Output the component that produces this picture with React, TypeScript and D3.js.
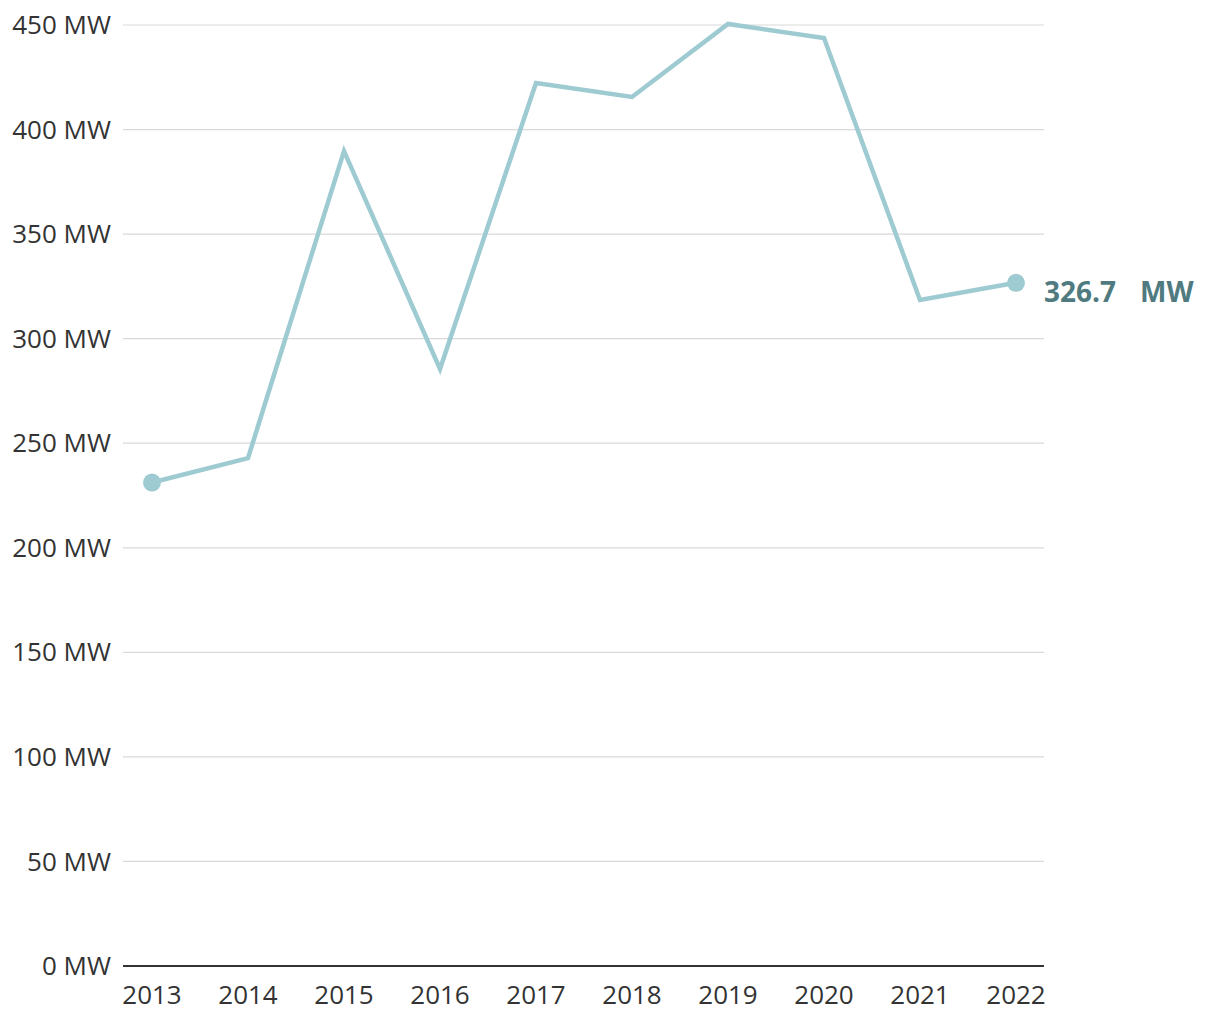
import React from "react";
import * as d3 from "d3";

const years = ["2013", "2014", "2015", "2016", "2017", "2018", "2019", "2020", "2021", "2022"];
const values = [231.2, 242.9, 389.7, 285.5, 422.3, 415.6, 450.5, 443.8, 318.5, 326.7];
const yTicks = [0, 50, 100, 150, 200, 250, 300, 350, 400, 450];

export default function App() {
  const W = 1220, H = 1020;
  const x = d3.scalePoint<string>().domain(years).range([152, 1016]);
  const y = d3.scaleLinear().domain([0, 450]).range([966, 25]);
  const line = d3.line<number>().x((_, i) => x(years[i])!).y((d) => y(d));
  const font = "'Open Sans', Roboto, 'Liberation Sans', sans-serif";
  const last = values.length - 1;
  return (
    <svg width={W} height={H} style={{ position: "absolute", left: 0, top: 0 }}>
      {yTicks.map((t) => (
        <g key={t}>
          {t > 0 && <line x1={123} x2={1044} y1={y(t)} y2={y(t)} stroke="#d9d9d9" strokeWidth={1.2} />}
          <text x={111} y={y(t)} dy="0.35em" textAnchor="end" fontFamily={font} fontSize={26} fill="#333">
            {t} MW
          </text>
        </g>
      ))}
      <line x1={123} x2={1044} y1={y(0)} y2={y(0)} stroke="#333" strokeWidth={2} />
      {years.map((yr) => (
        <text key={yr} x={x(yr)} y={1004} textAnchor="middle" fontFamily={font} fontSize={26} fill="#333">
          {yr}
        </text>
      ))}
      <path d={line(values)!} fill="none" stroke="#9ecbd2" strokeWidth={4.5} strokeLinejoin="miter" />
      <circle cx={x(years[0])} cy={y(values[0])} r={9} fill="#9ecbd2" />
      <circle cx={x(years[last])} cy={y(values[last])} r={9} fill="#9ecbd2" />
      <text x={1044} y={y(values[last])} dy="0.7em" fontFamily={font} fontSize={28} fontWeight="bold" fill="#4e7a80" style={{ whiteSpace: "pre" }}>
        {values[last].toFixed(1)}
        <tspan x={1140}>MW</tspan>
      </text>
    </svg>
  );
}
